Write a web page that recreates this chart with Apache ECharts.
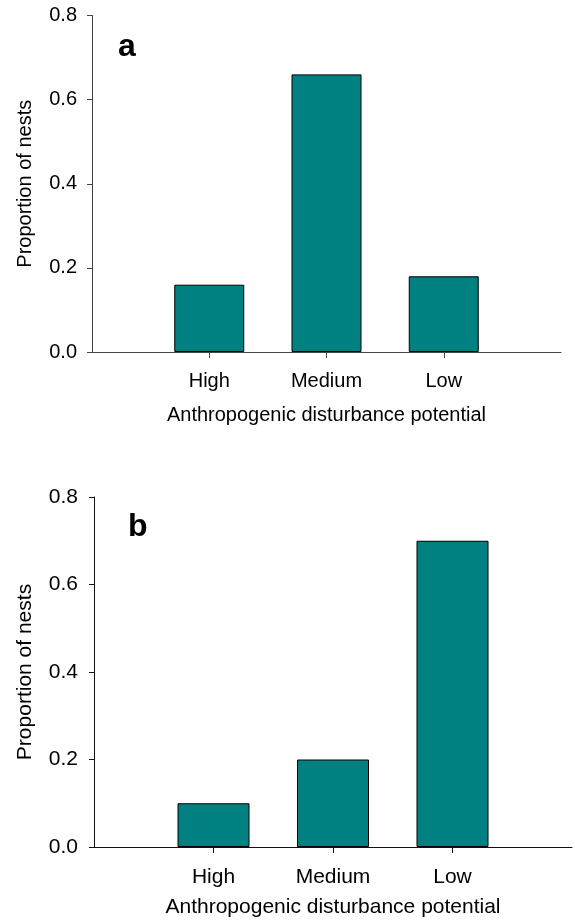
<!DOCTYPE html>
<html>
<head>
<meta charset="utf-8">
<script src="https://cdn.jsdelivr.net/npm/echarts@6/dist/echarts.min.js"></script>
<style>
  html, body { margin: 0; padding: 0; background: #fff; }
  #chart { width: 575px; height: 924px; }
</style>
</head>
<body>
<div id="chart"></div>
<script>
// data
const categories = ["High", "Medium", "Low"];
const nestsA = [0.16, 0.66, 0.18];
const nestsB = [0.1, 0.2, 0.7];
const yTicks = [0, 0.2, 0.4, 0.6, 0.8];
const xName = "Anthropogenic disturbance potential";
const yName = "Proportion of nests";

document.addEventListener("DOMContentLoaded", () => {
  const chart = echarts.init(document.getElementById("chart"));
  const font = "Liberation Sans, Arial, sans-serif";
  const teal = "#008080";

  // empty slot on each side so the bars sit at 1,2,3 of a 0..4 axis
  const slots = ["", ...categories, ""];
  const pad = (arr) => [null, ...arr, null];

  const xAxis = (idx, size, color, labelMargin, nameGap) => ({
    type: "category",
    gridIndex: idx,
    data: slots,
    boundaryGap: false,
    axisLine: { lineStyle: { color: color, width: 1 } },
    axisTick: { length: 6, interval: (i, v) => v !== "", lineStyle: { color: color } },
    axisLabel: { interval: 0, color: "#000", fontSize: size, fontFamily: font, margin: labelMargin },
    name: xName,
    nameLocation: "middle",
    nameGap: nameGap,
    nameTextStyle: { color: "#000", fontSize: size, fontFamily: font }
  });

  const yAxis = (idx, size, color, labelMargin, nameGap) => ({
    type: "value",
    gridIndex: idx,
    min: yTicks[0],
    max: yTicks[yTicks.length - 1],
    interval: 0.2,
    splitLine: { show: false },
    axisLine: { show: true, lineStyle: { color: color, width: 1 } },
    axisTick: { show: true, length: 5, lineStyle: { color: color } },
    axisLabel: { color: "#000", fontSize: size, fontFamily: font, margin: labelMargin, formatter: (v) => v.toFixed(1) },
    name: yName,
    nameLocation: "middle",
    nameGap: nameGap,
    nameTextStyle: { color: "#000", fontSize: size, fontFamily: font }
  });

  const barSeries = (idx, values, width) => ({
    type: "bar",
    xAxisIndex: idx,
    yAxisIndex: idx,
    data: pad(values),
    barWidth: width,
    itemStyle: { color: teal, borderColor: "#000", borderWidth: 1 },
    animation: false
  });

  chart.setOption({
    animation: false,
    grid: [
      { left: 92, top: 15.5, width: 469, height: 336.5 },
      { left: 94, top: 497, width: 481, height: 350 }
    ],
    xAxis: [xAxis(0, 20, "#444", 19, 53), xAxis(1, 21, "#111", 20, 50)],
    yAxis: [yAxis(0, 20, "#444", 15, 57), yAxis(1, 21, "#111", 16, 58)],
    series: [barSeries(0, nestsA, 70), barSeries(1, nestsB, 72)],
    graphic: [
      { type: "text", left: 118, top: 31, style: { text: "a", font: "bold 32px " + font, fill: "#000" } },
      { type: "text", left: 128, top: 511, style: { text: "b", font: "bold 32px " + font, fill: "#000" } }
    ]
  });

  window.addEventListener("resize", () => chart.resize());
});
</script>
</body>
</html>
